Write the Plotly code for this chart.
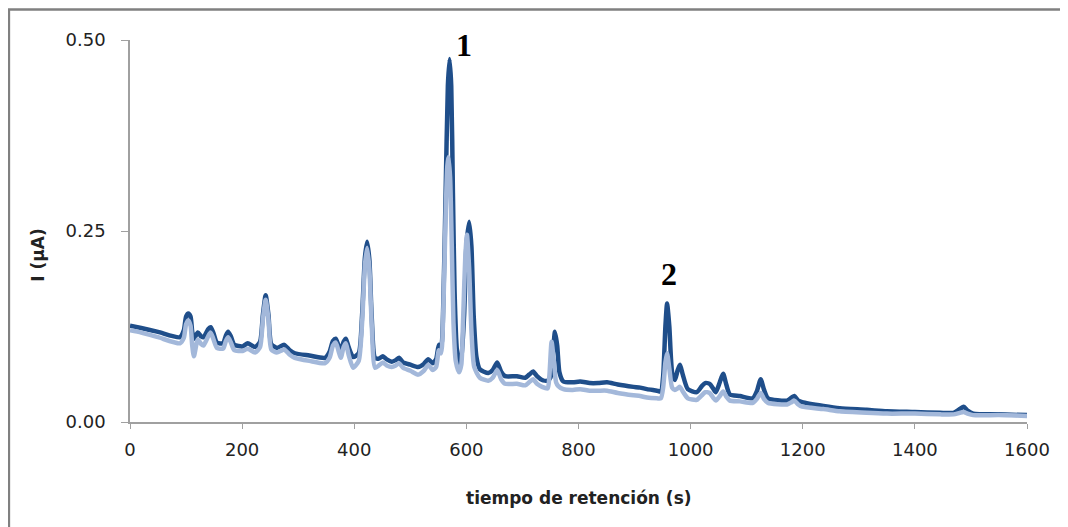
import plotly.graph_objects as go

# Dark series (retention time s, current µA)
t_dark = [0, 20, 50, 89, 96, 100, 104, 108, 111, 114, 121, 127, 131, 140, 144, 149, 155, 166, 171, 175,
          180, 186, 201, 210, 223, 232, 237, 242, 247, 252, 262, 275, 285, 294, 320, 348, 356, 362, 367,
          372, 376, 381, 385, 390, 398, 408, 414, 419, 423, 427, 431, 437, 444, 451, 458, 467, 474, 480,
          487, 500, 514, 524, 532, 540, 546, 551, 555, 559, 563, 567, 570, 573, 576, 579, 583, 587, 591,
          596, 600, 605, 609, 613, 618, 624, 639, 647, 655, 662, 669, 690, 705, 712, 719, 726, 735, 745,
          750, 754, 758, 762, 766, 773, 790, 803, 820, 835, 851, 870, 898, 910, 922, 940, 947, 951, 955,
          958, 962, 967, 972, 977, 981, 986, 995, 1011, 1020, 1026, 1034, 1040, 1045, 1052, 1058, 1064,
          1070, 1088, 1111, 1118, 1125, 1131, 1138, 1172, 1180, 1185, 1192, 1199, 1237, 1266, 1314, 1350,
          1400, 1445, 1469, 1480, 1487, 1494, 1504, 1550, 1600]
i_dark = [0.126, 0.123, 0.118, 0.111, 0.120, 0.138, 0.142, 0.138, 0.118, 0.109, 0.117, 0.112, 0.111, 0.122,
          0.124, 0.116, 0.104, 0.103, 0.113, 0.118, 0.112, 0.101, 0.099, 0.103, 0.098, 0.105, 0.140, 0.166,
          0.140, 0.102, 0.097, 0.101, 0.094, 0.090, 0.087, 0.084, 0.092, 0.106, 0.109, 0.100, 0.094, 0.105,
          0.109, 0.098, 0.085, 0.090, 0.140, 0.215, 0.236, 0.212, 0.140, 0.084, 0.083, 0.086, 0.082, 0.079,
          0.081, 0.084, 0.078, 0.075, 0.072, 0.076, 0.082, 0.077, 0.082, 0.101, 0.098, 0.160, 0.300, 0.440,
          0.475, 0.440, 0.300, 0.170, 0.095, 0.077, 0.085, 0.140, 0.230, 0.262, 0.230, 0.140, 0.085, 0.069,
          0.064, 0.068, 0.078, 0.066, 0.060, 0.060, 0.058, 0.062, 0.066, 0.060, 0.055, 0.054, 0.058, 0.085,
          0.118, 0.100, 0.065, 0.053, 0.052, 0.053, 0.051, 0.051, 0.052, 0.049, 0.046, 0.045, 0.043, 0.041,
          0.040, 0.060, 0.125, 0.155, 0.125, 0.065, 0.055, 0.068, 0.075, 0.062, 0.043, 0.039, 0.047, 0.051,
          0.050, 0.044, 0.039, 0.052, 0.063, 0.048, 0.036, 0.034, 0.031, 0.040, 0.056, 0.042, 0.031, 0.028,
          0.032, 0.034, 0.028, 0.026, 0.021, 0.018, 0.016, 0.014, 0.013, 0.012, 0.012, 0.017, 0.020, 0.015,
          0.011, 0.010, 0.009]

# Light series
t_light = [0, 20, 50, 89, 96, 100, 104, 108, 111, 114, 121, 127, 131, 140, 144, 149, 155, 166, 171, 175,
           180, 186, 201, 210, 223, 232, 237, 242, 247, 252, 262, 275, 285, 294, 320, 348, 356, 362, 367,
           372, 376, 381, 385, 390, 398, 408, 414, 419, 423, 427, 431, 437, 444, 451, 458, 467, 474, 480,
           487, 500, 514, 524, 532, 540, 546, 551, 555, 559, 563, 566, 568, 571, 574, 577, 581, 587, 591,
           594, 598, 601, 605, 609, 614, 624, 639, 647, 655, 662, 669, 690, 705, 712, 719, 726, 735, 745,
           748, 752, 756, 760, 764, 773, 790, 803, 820, 835, 851, 870, 898, 910, 922, 940, 947, 951, 955,
           958, 962, 967, 972, 977, 981, 986, 995, 1011, 1020, 1026, 1034, 1040, 1045, 1052, 1058, 1064,
           1070, 1088, 1111, 1118, 1125, 1131, 1138, 1172, 1180, 1185, 1192, 1199, 1237, 1266, 1314, 1350,
           1400, 1445, 1469, 1480, 1487, 1494, 1504, 1550, 1600]
i_light = [0.120, 0.117, 0.111, 0.103, 0.110, 0.128, 0.133, 0.126, 0.100, 0.086, 0.108, 0.102, 0.100, 0.113,
           0.117, 0.108, 0.097, 0.096, 0.106, 0.111, 0.104, 0.094, 0.093, 0.096, 0.091, 0.098, 0.134, 0.160,
           0.134, 0.095, 0.091, 0.095, 0.088, 0.084, 0.080, 0.077, 0.084, 0.100, 0.104, 0.093, 0.084, 0.098,
           0.103, 0.088, 0.071, 0.080, 0.130, 0.205, 0.228, 0.200, 0.130, 0.071, 0.074, 0.078, 0.074, 0.072,
           0.074, 0.077, 0.071, 0.067, 0.062, 0.067, 0.075, 0.068, 0.072, 0.094, 0.090, 0.150, 0.270, 0.335,
           0.347, 0.320, 0.230, 0.130, 0.080, 0.065, 0.075, 0.130, 0.215, 0.245, 0.200, 0.120, 0.072, 0.058,
           0.054, 0.058, 0.068, 0.056, 0.050, 0.050, 0.048, 0.052, 0.056, 0.050, 0.046, 0.044, 0.060, 0.105,
           0.080, 0.052, 0.047, 0.043, 0.042, 0.043, 0.041, 0.041, 0.041, 0.038, 0.035, 0.034, 0.032, 0.031,
           0.031, 0.045, 0.078, 0.090, 0.070, 0.045, 0.042, 0.044, 0.046, 0.040, 0.031, 0.029, 0.035, 0.039,
           0.038, 0.032, 0.028, 0.034, 0.040, 0.033, 0.028, 0.027, 0.025, 0.030, 0.038, 0.030, 0.025, 0.023,
           0.026, 0.028, 0.023, 0.020, 0.017, 0.014, 0.012, 0.011, 0.011, 0.010, 0.010, 0.012, 0.013, 0.011,
           0.009, 0.009, 0.008]

x_ticks = [0, 200, 400, 600, 800, 1000, 1200, 1400, 1600]
y_ticks = [0.0, 0.25, 0.5]
y_tick_labels = ["0.00", "0.25", "0.50"]
peak_labels = ["1", "2"]
peak_label_t = [596, 962]
peak_label_i = [0.4935, 0.194]

DARK = "#1F4E8A"
LIGHT = "#A3B8DA"
AXIS = "#A0A0A0"
FONT = "DejaVu Sans"

fig = go.Figure()
fig.add_trace(go.Scatter(x=t_dark, y=i_dark, mode="lines", line_shape="spline",
                         line=dict(color=DARK, width=4.5, smoothing=0.6), showlegend=False))
fig.add_trace(go.Scatter(x=t_light, y=i_light, mode="lines", line_shape="spline",
                         line=dict(color=LIGHT, width=4.5, smoothing=0.6), showlegend=False))

for lab, tx, ty in zip(peak_labels, peak_label_t, peak_label_i):
    fig.add_annotation(x=tx, y=ty, text=f"<b>{lab}</b>", showarrow=False,
                       font=dict(family="Liberation Serif", size=32, color="#000000"))

# axis titles
fig.add_annotation(xref="paper", yref="paper", x=0.5, y=-0.2, yanchor="middle",
                   text="<b>tiempo de retención (s)</b>", showarrow=False,
                   font=dict(family=FONT, size=17, color="#222222"))
fig.add_annotation(xref="paper", yref="paper", x=-0.103, y=0.437, xanchor="center", yanchor="middle",
                   text="<b>I (µA)</b>", textangle=-90, showarrow=False,
                   font=dict(family=FONT, size=17, color="#222222"))

# outer frame
fig.add_shape(type="rect", xref="paper", yref="paper", x0=-0.135, y0=-0.5, x1=1.2, y1=1.08,
              line=dict(color="#808080", width=2.5), fillcolor="rgba(0,0,0,0)", layer="below")

fig.update_xaxes(range=[0, 1600], tickvals=x_ticks, ticks="outside", ticklen=5, tickcolor=AXIS,
                 showline=True, linecolor=AXIS, linewidth=1.5, showgrid=False, zeroline=False,
                 tickfont=dict(family=FONT, size=18, color="#222222"), ticklabelstandoff=6)
fig.update_yaxes(range=[0, 0.5], tickvals=y_ticks, ticktext=y_tick_labels, ticks="outside", ticklen=7,
                 tickcolor=AXIS, showline=True, linecolor=AXIS, linewidth=1.5, showgrid=False,
                 zeroline=False, tickfont=dict(family=FONT, size=18, color="#222222"), ticklabelstandoff=12)

fig.update_layout(width=1068, height=527, margin=dict(l=122, r=49, t=32, b=113),
                  plot_bgcolor="white", paper_bgcolor="white")

fig.write_html("out.html")
